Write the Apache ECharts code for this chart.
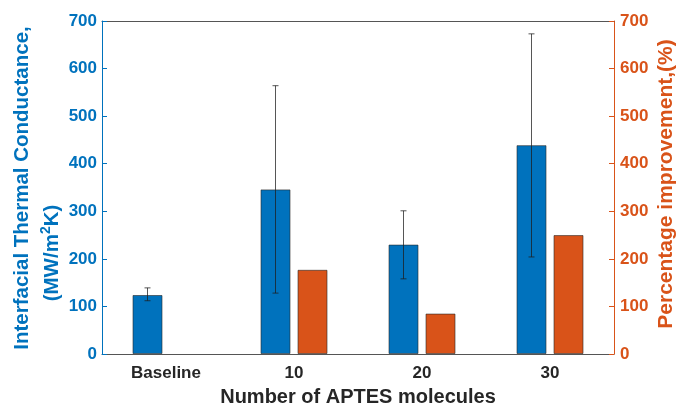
<!DOCTYPE html>
<html>
<head>
<meta charset="utf-8">
<script src="https://cdn.jsdelivr.net/npm/echarts@6/dist/echarts.min.js"></script>
<style>
  html, body { margin: 0; padding: 0; background: #fff; }
  #chart { width: 678px; height: 412px; }
</style>
</head>
<body>
<div id="chart"></div>
<script>
var categories = ['Baseline', '10', '20', '30'];
var conductance = [124, 346, 230, 439];
var errLow = [112, 128, 158, 204];
var errHigh = [139, 564, 301, 673];
var improvement = [null, 177, 85, 250];
var yTicks = [0, 100, 200, 300, 400, 500, 600, 700];

var blue = '#0072BD';
var orange = '#D95319';
var font = '"Liberation Sans", Arial, sans-serif';
var barWidth = 30;
var barGapPx = 7;
// centre of the first bar in each group, relative to category centre
var blueOffset = -(barWidth * 2 + barGapPx) / 2 + barWidth / 2;

var errData = [];
for (var i = 0; i < categories.length; i++) {
    errData.push([i, errLow[i], errHigh[i]]);
}

var myChart = echarts.init(document.getElementById('chart'), null, { renderer: 'canvas' });

var option = {
    backgroundColor: '#fff',
    animation: false,
    textStyle: { fontFamily: font },
    grid: {
        left: 102,
        right: 64,
        top: 21,
        bottom: 51
    },
    xAxis: [{
        type: 'category',
        data: categories,
        boundaryGap: true,
        axisLine: { onZero: false, lineStyle: { color: '#555', width: 1 } },
        axisTick: { alignWithLabel: true, inside: true, length: 6, lineStyle: { color: '#333' } },
        axisLabel: { color: '#262626', fontSize: 17, fontWeight: 'bold', margin: 11, fontFamily: font },
        name: 'Number of APTES molecules',
        nameLocation: 'middle',
        nameGap: 33,
        nameTextStyle: { color: '#262626', fontSize: 20, fontWeight: 'bold', fontFamily: font }
    }, {
        type: 'category',
        data: categories,
        position: 'top',
        boundaryGap: true,
        axisLine: { onZero: false, lineStyle: { color: '#555', width: 1 } },
        axisTick: { alignWithLabel: true, inside: true, length: 6, lineStyle: { color: '#333' } },
        axisLabel: { show: false }
    }],
    yAxis: [{
        type: 'value',
        min: 0,
        max: 700,
        interval: 100,
        position: 'left',
        splitLine: { show: false },
        axisLine: { show: true, lineStyle: { color: blue, width: 1 } },
        axisTick: { show: true, inside: true, length: 5, lineStyle: { color: blue } },
        axisLabel: {
            color: blue, fontSize: 17, fontWeight: 'bold', margin: 5, fontFamily: font,
            formatter: function (v) { return yTicks.indexOf(v) >= 0 ? String(v) : ''; }
        }
    }, {
        type: 'value',
        min: 0,
        max: 700,
        interval: 100,
        position: 'right',
        splitLine: { show: false },
        axisLine: { show: true, lineStyle: { color: orange, width: 1 } },
        axisTick: { show: true, inside: true, length: 5, lineStyle: { color: orange } },
        axisLabel: {
            color: orange, fontSize: 17, fontWeight: 'bold', margin: 6, fontFamily: font,
            formatter: function (v) { return yTicks.indexOf(v) >= 0 ? String(v) : ''; }
        }
    }],
    series: [{
        name: 'Conductance',
        type: 'bar',
        xAxisIndex: 0,
        yAxisIndex: 0,
        data: conductance,
        barWidth: barWidth,
        barGap: (barGapPx / barWidth * 100) + '%',
        itemStyle: { color: blue, borderColor: 'rgba(40,40,40,0.6)', borderWidth: 1 }
    }, {
        name: 'Improvement',
        type: 'bar',
        xAxisIndex: 0,
        yAxisIndex: 1,
        data: improvement,
        barWidth: barWidth,
        itemStyle: { color: orange, borderColor: 'rgba(40,40,40,0.6)', borderWidth: 1 }
    }, {
        name: 'Error',
        type: 'custom',
        xAxisIndex: 0,
        yAxisIndex: 0,
        data: errData,
        z: 10,
        renderItem: function (params, api) {
            var lo = api.coord([api.value(0), api.value(1)]);
            var hi = api.coord([api.value(0), api.value(2)]);
            var x = lo[0] + blueOffset;
            var cap = 3;
            var style = { stroke: 'rgba(30,30,30,0.75)', lineWidth: 1 };
            return {
                type: 'group',
                children: [
                    { type: 'line', shape: { x1: x, y1: lo[1], x2: x, y2: hi[1] }, style: style },
                    { type: 'line', shape: { x1: x - cap, y1: lo[1], x2: x + cap, y2: lo[1] }, style: style },
                    { type: 'line', shape: { x1: x - cap, y1: hi[1], x2: x + cap, y2: hi[1] }, style: style }
                ]
            };
        }
    }],
    graphic: [{
        type: 'text',
        x: 22,
        y: 188,
        rotation: Math.PI / 2,
        style: {
            text: 'Interfacial Thermal Conductance,',
            fill: blue,
            font: 'bold 20.5px ' + font,
            textAlign: 'center',
            textVerticalAlign: 'middle'
        }
    }, {
        type: 'text',
        x: 51,
        y: 253,
        rotation: Math.PI / 2,
        style: {
            text: '{a|(MW/m}{s|2}{a|K)}',
            fill: blue,
            textAlign: 'center',
            textVerticalAlign: 'middle',
            rich: {
                a: { font: 'bold 20.5px ' + font, fill: blue, lineHeight: 24, verticalAlign: 'bottom' },
                s: { font: 'bold 14px ' + font, fill: blue, lineHeight: 24, verticalAlign: 'top' }
            }
        }
    }, {
        type: 'text',
        x: 666,
        y: 184,
        rotation: Math.PI / 2,
        style: {
            text: 'Percentage improvement,(%)',
            fill: orange,
            font: 'bold 21px ' + font,
            textAlign: 'center',
            textVerticalAlign: 'middle'
        }
    }]
};

myChart.setOption(option);
window.onresize = myChart.resize;
</script>
</body>
</html>
